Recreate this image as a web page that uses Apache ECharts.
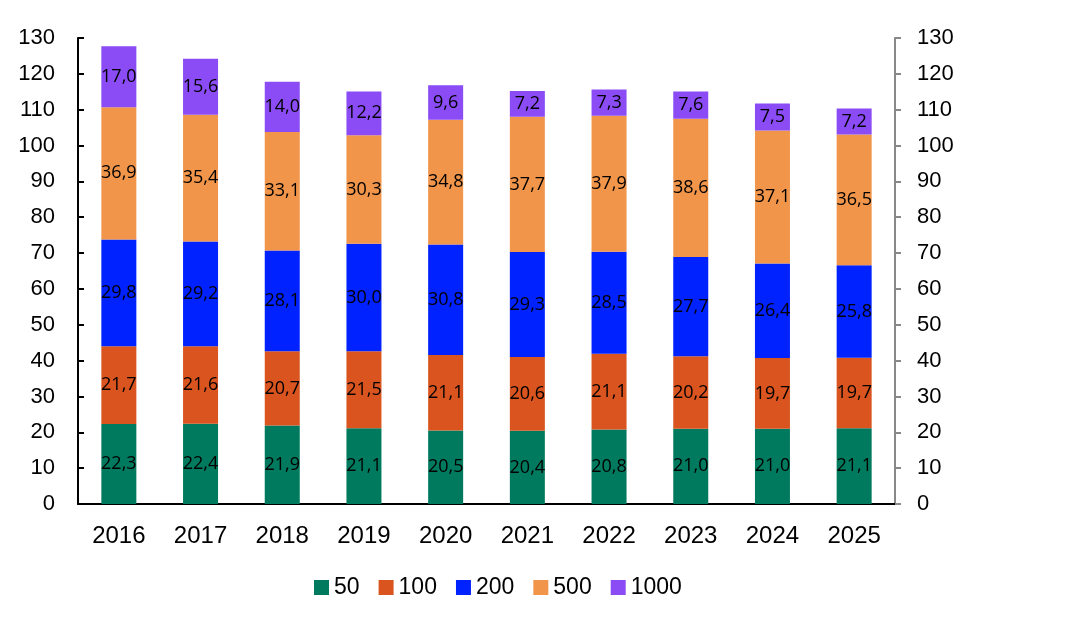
<!DOCTYPE html>
<html>
<head>
<meta charset="utf-8">
<script src="https://cdn.jsdelivr.net/npm/echarts@6/dist/echarts.min.js"></script>
<style>
  html, body { margin: 0; padding: 0; background: #fff; }
  #chart { width: 1082px; height: 618px; }
</style>
</head>
<body>
<div id="chart"></div>
<script>
var years = ['2016', '2017', '2018', '2019', '2020', '2021', '2022', '2023', '2024', '2025'];
var names = ['50', '100', '200', '500', '1000'];
var s50 = [22.3, 22.4, 21.9, 21.1, 20.5, 20.4, 20.8, 21.0, 21.0, 21.1];
var s100 = [21.7, 21.6, 20.7, 21.5, 21.1, 20.6, 21.1, 20.2, 19.7, 19.7];
var s200 = [29.8, 29.2, 28.1, 30.0, 30.8, 29.3, 28.5, 27.7, 26.4, 25.8];
var s500 = [36.9, 35.4, 33.1, 30.3, 34.8, 37.7, 37.9, 38.6, 37.1, 36.5];
var s1000 = [17.0, 15.6, 14.0, 12.2, 9.6, 7.2, 7.3, 7.6, 7.5, 7.2];
var colors = ['#007a5e', '#d9541e', '#0022ff', '#f0954a', '#8b4cf5'];

var allData = [s50, s100, s200, s500, s1000];

var chart = echarts.init(document.getElementById('chart'));

var series = allData.map(function (d, i) {
  return {
    name: names[i],
    type: 'bar',
    stack: 'total',
    barWidth: 35,
    itemStyle: { color: colors[i] },
    label: {
      show: true,
      position: 'inside',
      color: '#000',
      fontFamily: 'Open Sans',
      fontSize: 18,
      formatter: function (p) { return p.value.toFixed(1).replace('.', ','); }
    },
    data: d
  };
});

var option = {
  animation: false,
  color: colors,
  textStyle: { fontFamily: 'Liberation Sans' },
  grid: { left: 78, right: 187, top: 38, bottom: 114, containLabel: false },
  legend: {
    top: 571,
    left: 309,
    itemWidth: 15,
    itemHeight: 15,
    itemGap: 19,
    icon: 'rect',
    textStyle: { fontSize: 23, color: '#000', fontFamily: 'Liberation Sans' },
    data: names
  },
  xAxis: {
    type: 'category',
    data: years,
    axisLine: { lineStyle: { color: '#000', width: 2 } },
    axisTick: { inside: true, length: 7, lineStyle: { color: '#000', width: 2 } },
    axisLabel: { fontSize: 24, color: '#000', margin: 20 }
  },
  yAxis: [
    {
      type: 'value',
      min: 0, max: 130, interval: 10,
      axisLine: { show: true, lineStyle: { color: '#000', width: 2 } },
      axisTick: { show: true, inside: true, length: 6, lineStyle: { color: '#000', width: 2 } },
      axisLabel: { fontSize: 22, color: '#000', margin: 23 },
      splitLine: { show: false }
    },
    {
      type: 'value',
      min: 0, max: 130, interval: 10,
      position: 'right',
      axisLine: { show: true, lineStyle: { color: '#888', width: 2 } },
      axisTick: { show: true, length: 6, lineStyle: { color: '#888', width: 2 } },
      axisLabel: { fontSize: 22, color: '#000', margin: 22 },
      splitLine: { show: false }
    }
  ],
  series: series
};

chart.setOption(option);
</script>
</body>
</html>
